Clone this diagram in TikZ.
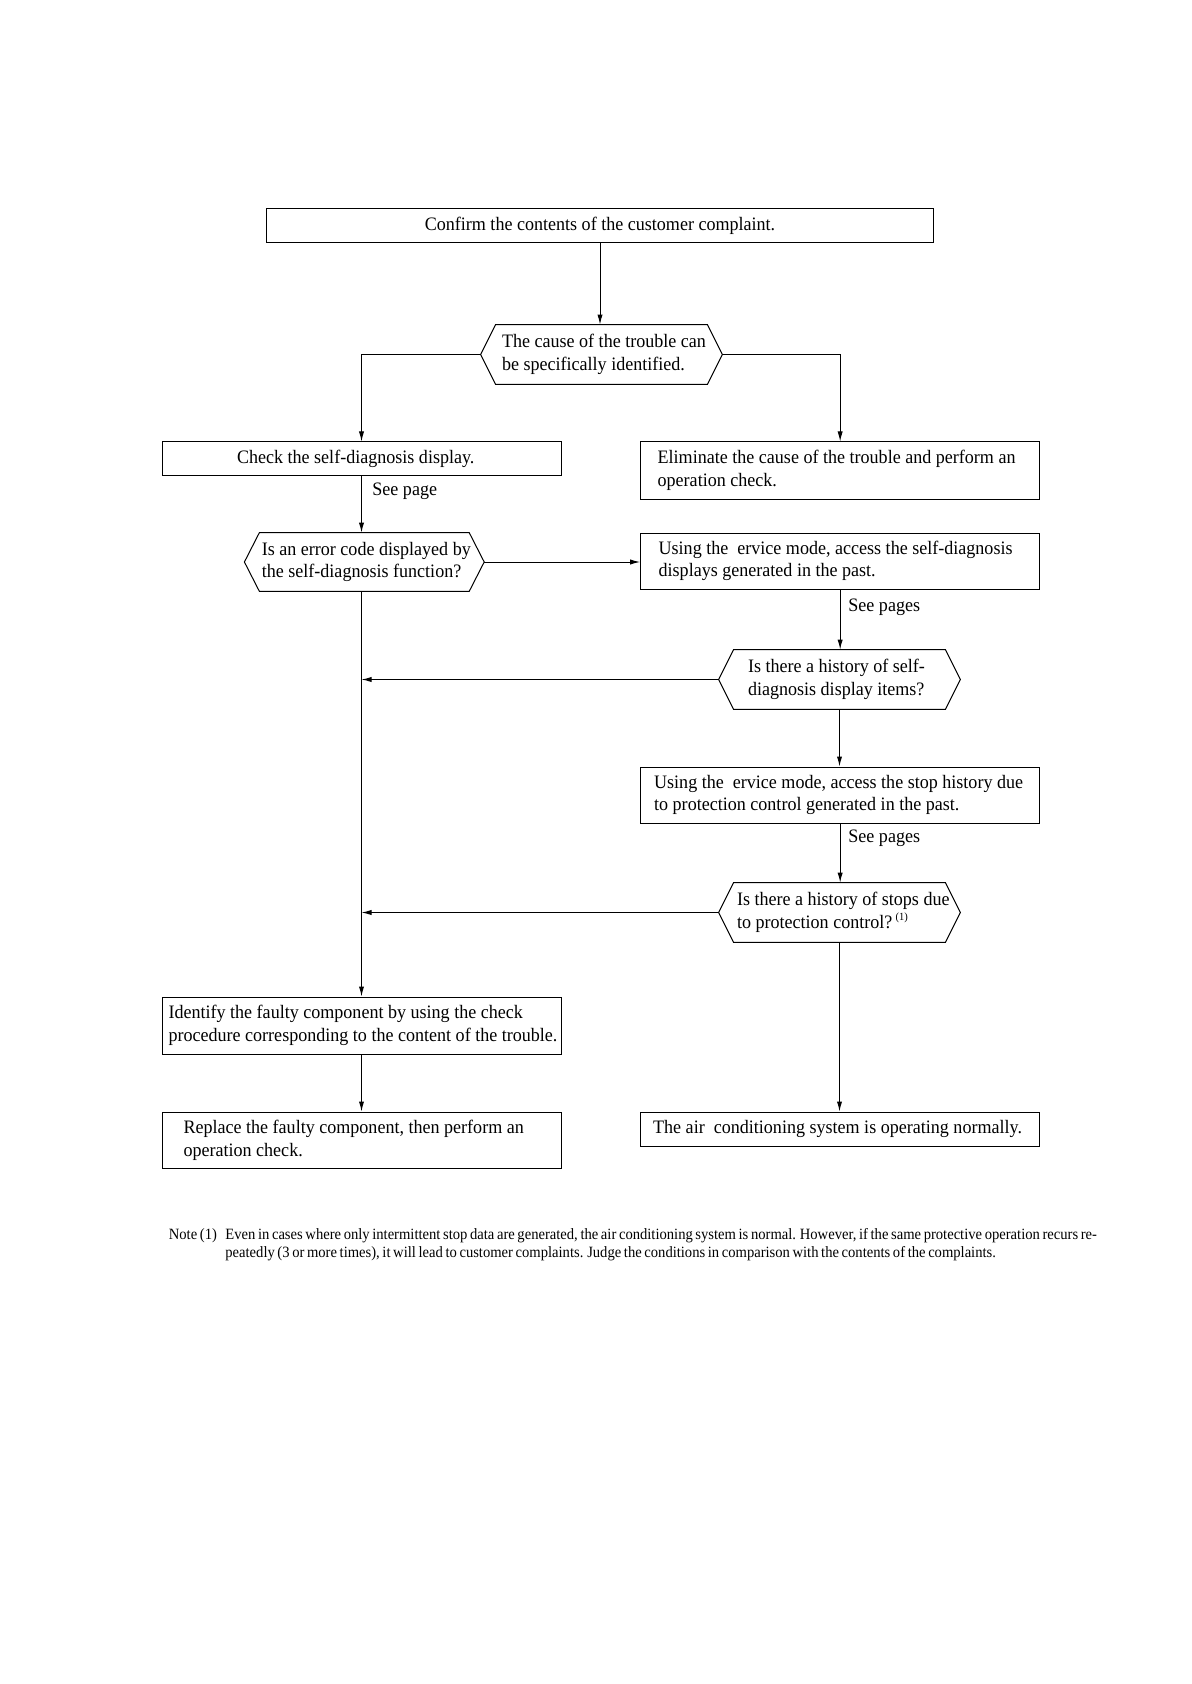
\documentclass[tikz,border=0pt]{standalone}
\usepackage{fontspec}
\setmainfont{Liberation Serif}[FakeStretch=0.95]
\newfontfamily\notefamily{Liberation Serif}[FakeStretch=0.93, WordSpace=0.72]
\usetikzlibrary{arrows.meta,calc}
\begin{document}
\begin{tikzpicture}[x=0.5pt,y=-0.5pt,
  every node/.style={font=\fontsize{9.5}{11.25}\selectfont, inner ysep=0pt,
    execute at begin node={\spaceskip=0pt\xspaceskip=0pt}},
  box/.style={draw, line width=0.5pt, align=left},
  hexin/.style={align=left},
  hexline/.style={line width=0.5pt, line join=miter},
  conn/.style={line width=0.5pt},
  arr/.style={conn, -{Latex[length=5pt,width=2.6pt]}},
  lbl/.style={anchor=west, inner sep=0pt},
  notefont/.style={font=\notefamily\fontsize{7.85}{9}\selectfont}
]
\useasboundingbox (0,0) rectangle (1191,1684);

% rectangular boxes
\node[box, align=center, text width=325.75pt, inner xsep=4pt, minimum height=16.75pt] (top) at (600,225.75)
  {\mbox{Confirm the contents of the customer complaint.}};
\node[box, text width=124.5pt, inner xsep=37.5pt, minimum height=16.5pt] (check) at (361.5,458.5)
  {\mbox{Check the self-diagnosis display.}};
\node[box, text width=182.5pt, inner xsep=8.5pt, minimum height=28.5pt] (elim) at (840.15,470.5)
  {\mbox{Eliminate the cause of the trouble and perform an}\\operation check.};
\node[box, text width=181.5pt, inner xsep=9pt, minimum height=28pt] (sv1) at (840.15,561)
  {\mbox{Using the \ ervice mode, access the self-diagnosis}\\displays generated in the past.};
\node[box, text width=186pt, inner xsep=6.75pt, minimum height=28pt] (sv2) at (840.15,795)
  {\mbox{Using the \ ervice mode, access the stop history due}\\to protection control generated in the past.};
\node[box, text width=193pt, inner xsep=3.25pt, minimum height=28.5pt] (ident) at (361.5,1025.5)
  {\mbox{Identify the faulty component by using the check}\\\mbox{procedure corresponding to the content of the trouble.}};
\node[box, text width=178pt, inner xsep=10.75pt, minimum height=28.25pt] (repl) at (361.5,1140.25)
  {\mbox{Replace the faulty component, then perform an}\\operation check.};
\node[box, text width=187pt, inner xsep=6.25pt, minimum height=17pt] (normal) at (840.15,1129)
  {\mbox{The air \ conditioning system is operating normally.}};

% hexagon decision nodes
\node[hexin, text width=99.5pt, inner xsep=3pt, minimum height=29.5pt] (h1) at (601.5,354.5)
  {\mbox{The cause of the trouble can}\\\mbox{be specifically identified.}};
\node[hexin, text width=102.5pt, inner xsep=1pt, minimum height=29pt] (h2) at (364.3,562)
  {\mbox{Is an error code displayed by}\\\mbox{the self-diagnosis function?}};
\node[hexin, text width=91.5pt, inner xsep=7pt, minimum height=29.5pt] (h3) at (839.5,679.5)
  {\mbox{Is there a history of self-}\\\mbox{diagnosis display items?}};
\node[hexin, text width=102.5pt, inner xsep=1.5pt, minimum height=29.5pt] (h4) at (839.5,912.5)
  {\mbox{Is there a history of stops due}\\\mbox{to protection control?\,\raisebox{0.9ex}{\fontsize{5.5}{6}\selectfont (1)}}};

\foreach \h in {h1,h2,h3,h4}{
  \coordinate (\h l) at ($(\h.west)+(-15,0)$);
  \coordinate (\h r) at ($(\h.east)+(15,0)$);
  \draw[hexline] (\h.north west) -- (\h.north east) -- (\h r) -- (\h.south east)
    -- (\h.south west) -- (\h l) -- cycle;
}

% labels
\node[lbl] (sp1) at (372,491) {See page};
\node[lbl] (sp2) at (848,607) {See pages};
\node[lbl] (sp3) at (848,838) {See pages};

% connectors
\draw[arr] (top.south) -- (top.south |- h1.north);
\draw[arr] (h1l) -| (check.north);
\draw[arr] (h1r) -| (elim.north);
\draw[arr] (check.south) -- (check.south |- h2.north);
\draw[arr] (h2r) -- (h2r -| sv1.west);
\draw[arr] (sv1.south) -- (sv1.south |- h3.north);
\draw[arr] (h3l) -- (h3l -| check.south);
\draw[arr] (h3.south) -- (h3.south |- sv2.north);
\draw[arr] (sv2.south) -- (sv2.south |- h4.north);
\draw[arr] (h4l) -- (h4l -| check.south);
\draw[arr] (check.south |- h2.south) -- (ident.north);
\draw[arr] (ident.south) -- (repl.north);
\draw[arr] (h4.south) -- (h4.south |- normal.north);

% note
\node[anchor=base west, inner sep=0pt, notefont] (notelbl) at (168.5,1239) {Note (1)};
\node[anchor=north west, inner sep=0pt, align=left, notefont] (notetxt) at (225,1228)
  {Even in cases where only intermittent stop data are generated, the air conditioning system is normal. However, if the same protective operation recurs re-\\
   peatedly (3 or more times), it will lead to customer complaints. Judge the conditions in comparison with the contents of the complaints.};
\end{tikzpicture}
\end{document}
